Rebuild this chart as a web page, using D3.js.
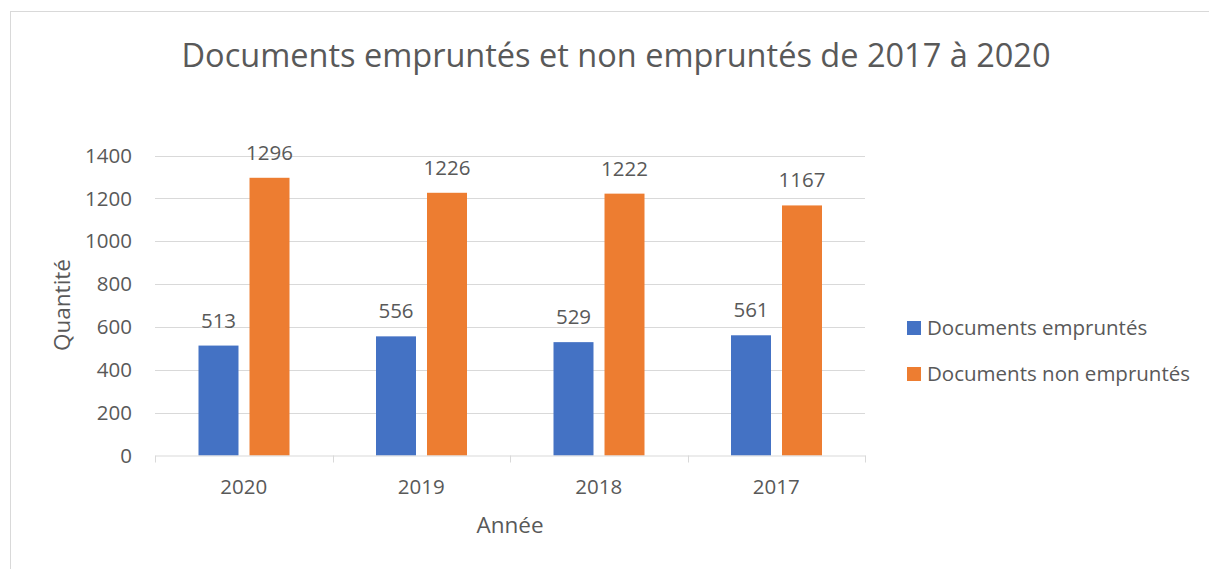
<!DOCTYPE html>
<html lang="fr">
  <head>
    <meta charset="UTF-8" />
    <title>Documents empruntés</title>
    <style>
      body {
        margin: 0;
        background: #fff;
      }
      svg text {
        font-family: "Open Sans", sans-serif;
        fill: #595959;
      }
    </style>
  </head>
  <body>
    <svg id="chart" width="1209" height="569"></svg>
  </body>
  <script src="https://cdn.jsdelivr.net/npm/d3@7"></script>
  <script>
    // data
    let years = ["2020", "2019", "2018", "2017"];
    let series = ["Documents empruntés", "Documents non empruntés"];
    let borrowed = [513, 556, 529, 561];
    let notBorrowed = [1296, 1226, 1222, 1167];
    let yTicks = [0, 200, 400, 600, 800, 1000, 1200, 1400];
    let colors = ["#4472c4", "#ed7d31"];

    let svg = d3.select("#chart");

    // outer chart frame
    svg
      .append("rect")
      .attr("x", 10.5)
      .attr("y", 11.5)
      .attr("width", 1220)
      .attr("height", 600)
      .style("fill", "none")
      .style("stroke", "#d9d9d9");

    svg
      .append("text")
      .attr("x", 616)
      .attr("y", 67)
      .attr("text-anchor", "middle")
      .style("font-size", "32.5px")
      .text("Documents empruntés et non empruntés de 2017 à 2020");

    let x0 = d3.scaleBand().domain(years).range([155, 865]);
    let x1 = d3
      .scaleBand()
      .domain(series)
      .range([43.5, 134.5])
      .paddingInner(0.216);
    let y = d3.scaleLinear().domain([0, 1400]).range([455.5, 155.5]);

    // grid
    svg
      .append("g")
      .selectAll("line")
      .data(yTicks.slice(1))
      .enter()
      .append("line")
      .attr("x1", 155)
      .attr("x2", 865)
      .attr("y1", (d) => Math.round(y(d)) + 0.5)
      .attr("y2", (d) => Math.round(y(d)) + 0.5)
      .style("stroke", "#d9d9d9");

    // y labels
    svg
      .append("g")
      .selectAll("text")
      .data(yTicks)
      .enter()
      .append("text")
      .attr("x", 132)
      .attr("y", (d) => y(d))
      .attr("dy", "0.35em")
      .attr("text-anchor", "end")
      .style("font-size", "20.5px")
      .text((d) => d);

    let rows = years.map((yr, i) => ({
      year: yr,
      values: [borrowed[i], notBorrowed[i]],
    }));

    let groups = svg
      .append("g")
      .selectAll("g")
      .data(rows)
      .enter()
      .append("g")
      .attr("transform", (d) => `translate(${x0(d.year)},0)`);

    groups
      .selectAll("rect")
      .data((d) => d.values.map((v, j) => ({ key: series[j], value: v, j: j })))
      .enter()
      .append("rect")
      .attr("x", (d) => x1(d.key))
      .attr("width", x1.bandwidth())
      .attr("y", (d) => y(d.value))
      .attr("height", (d) => y(0) - y(d.value))
      .style("fill", (d) => colors[d.j]);

    groups
      .selectAll("text")
      .data((d) => d.values.map((v, j) => ({ key: series[j], value: v })))
      .enter()
      .append("text")
      .attr("x", (d) => x1(d.key) + x1.bandwidth() / 2)
      .attr("y", (d) => y(d.value) - 18)
      .attr("text-anchor", "middle")
      .style("font-size", "20.5px")
      .text((d) => d.value);

    // x axis
    let xAxis = d3.axisBottom(x0).tickSize(0).tickPadding(0);
    let xg = svg
      .append("g")
      .attr("transform", "translate(0,455.5)")
      .call(xAxis);
    xg.select(".domain").style("stroke", "#d9d9d9");
    xg.selectAll("text")
      .attr("y", 38.5)
      .attr("dy", 0)
      .style("font-size", "20.5px")
      .style("fill", "#595959");
    xg.append("g")
      .selectAll("line")
      .data([155, 332.5, 510, 687.5, 865])
      .enter()
      .append("line")
      .attr("x1", (d) => Math.round(d) + 0.5)
      .attr("x2", (d) => Math.round(d) + 0.5)
      .attr("y1", 0)
      .attr("y2", 7)
      .style("stroke", "#d9d9d9");

    svg
      .append("text")
      .attr("x", 510)
      .attr("y", 533)
      .attr("text-anchor", "middle")
      .style("font-size", "22.5px")
      .text("Année");

    svg
      .append("text")
      .attr("transform", "translate(70,305) rotate(-90)")
      .attr("text-anchor", "middle")
      .style("font-size", "22.5px")
      .text("Quantité");

    // legend
    let legend = svg
      .append("g")
      .selectAll("g")
      .data(series)
      .enter()
      .append("g")
      .attr("transform", (d, i) => `translate(907,${321 + i * 46})`);
    legend
      .append("rect")
      .attr("width", 14)
      .attr("height", 14)
      .style("fill", (d, i) => colors[i]);
    legend
      .append("text")
      .attr("x", 20)
      .attr("y", 14)
      .style("font-size", "20.5px")
      .text((d) => d);
  </script>
</html>
